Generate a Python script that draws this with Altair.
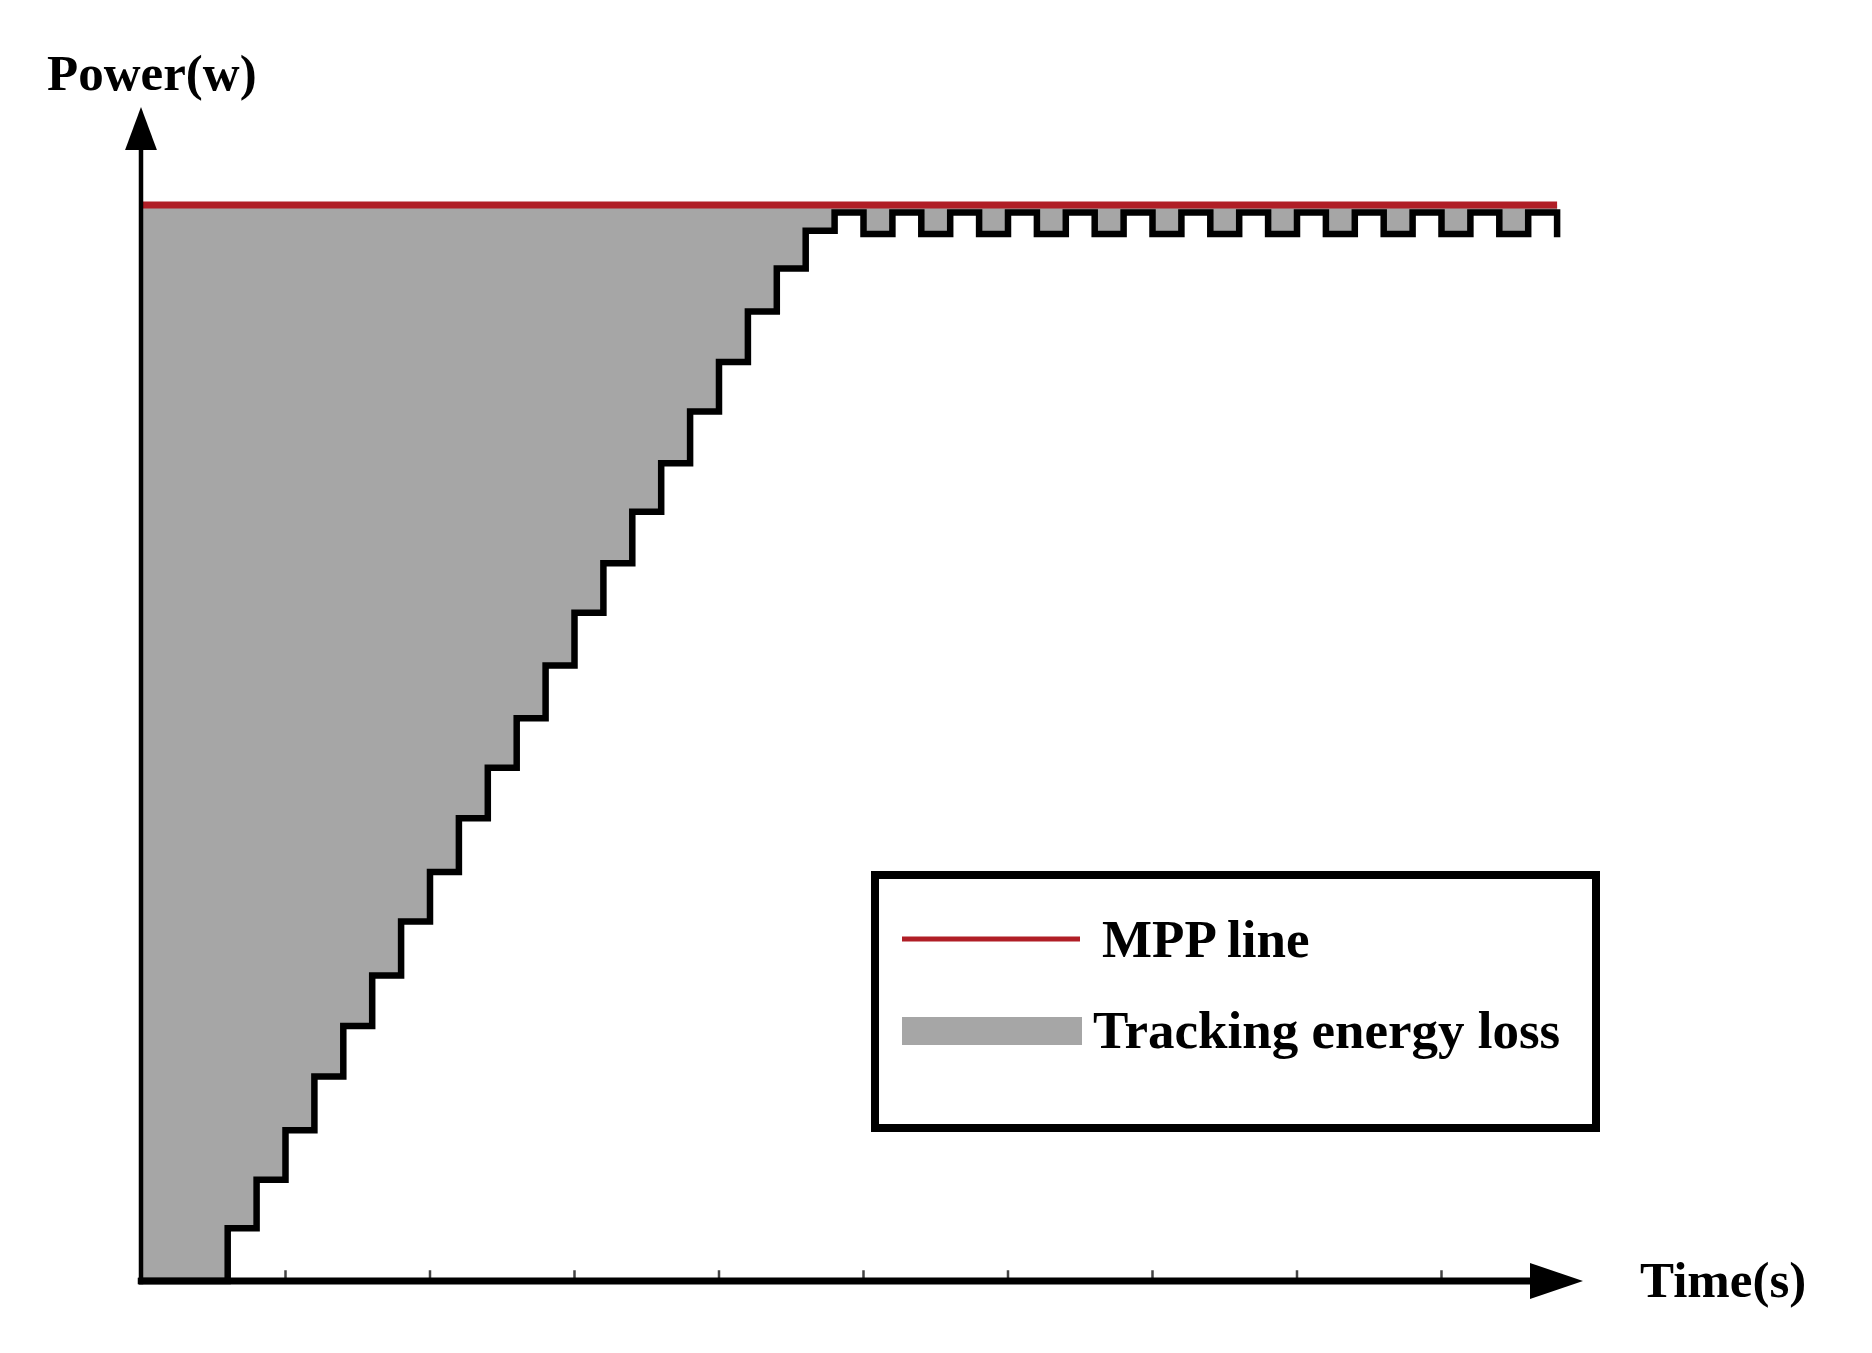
import altair as alt
import pandas as pd

# ---------------- data ----------------
time_s = [0, 3, 4, 5, 6, 7, 8, 9, 10, 11, 12, 13, 14, 15, 16, 17, 18, 19, 20,
          21, 22, 23, 24, 25, 26, 27, 28, 29, 30, 31, 32, 33, 34, 35, 36, 37,
          38, 39, 40, 41, 42, 43, 44, 45, 46, 47, 48, 49]
power_w = [0, 4.9, 9.4, 14.0, 19.0, 23.7, 28.4, 33.4, 38.0, 43.0, 47.7, 52.3,
           57.2, 62.1, 66.7, 71.5, 76.0, 80.8, 85.4, 90.1, 94.1, 97.6, 99.3,
           97.3, 99.3, 97.3, 99.3, 97.3, 99.3, 97.3, 99.3, 97.3, 99.3, 97.3,
           99.3, 97.3, 99.3, 97.3, 99.3, 97.3, 99.3, 97.3, 99.3, 97.3, 99.3,
           97.3, 99.3, 97.3]
mpp_time = [0, 49]
mpp_power = [100, 100]
tick_time = [5, 10, 15, 20, 25, 30, 35, 40, 45]
legend_labels = ["MPP line", "Tracking energy loss"]
axis_titles = ["Power(w)", "Time(s)"]

# ---------------- layout ----------------
W, H = 1850, 1330
T0, T1 = -4.602, 59.412
P0, P1 = -5.297, 118.309
xs = alt.Scale(domain=[T0, T1], nice=False, zero=False)
ys = alt.Scale(domain=[P0, P1], nice=False, zero=False)

RED = "#b01e26"
GRAY = "#a6a6a6"
FONT = "Liberation Serif"

steps = pd.DataFrame({"t": time_s, "p": power_w})
steps["mpp"] = mpp_power[0]
mpp = pd.DataFrame({"t": mpp_time, "p": mpp_power})
ticks = pd.DataFrame({"t": tick_time})
one = pd.DataFrame({"k": [0]})


def X(field=None, datum=None):
    if datum is not None:
        return alt.X(datum=datum, type="quantitative", scale=xs, axis=None)
    return alt.X(field, type="quantitative", scale=xs, axis=None)


def Y(field=None, datum=None):
    if datum is not None:
        return alt.Y(datum=datum, type="quantitative", scale=ys, axis=None)
    return alt.Y(field, type="quantitative", scale=ys, axis=None)


area = alt.Chart(steps).mark_area(interpolate="step-after", color=GRAY, opacity=1).encode(
    x=X("t"), y=Y("p"), y2="mpp:Q"
)

stair = alt.Chart(steps).mark_line(
    interpolate="step-after", color="black", strokeWidth=6.5,
    strokeJoin="miter", strokeCap="square"
).encode(x=X("t"), y=Y("p"))

mpp_line = alt.Chart(mpp).mark_line(color=RED, strokeWidth=7).encode(x=X("t"), y=Y("p"))

y_axis = alt.Chart(one).mark_rule(color="black", strokeWidth=4.5).encode(
    x=X(datum=0), y=Y(datum=-0.3), y2=alt.Y2(datum=105.3)
)
x_axis = alt.Chart(one).mark_rule(color="black", strokeWidth=7).encode(
    x=X(datum=-0.08), x2=alt.X2(datum=48.2), y=Y(datum=0)
)
y_arrow = alt.Chart(one).mark_point(
    shape="M0,-1L0.74,1L-0.74,1Z", filled=True, color="black", opacity=1, size=1849
).encode(x=X(datum=0), y=Y(datum=107.1))
x_arrow = alt.Chart(one).mark_point(
    shape="M1,0L-1,-0.68L-1,0.68Z", filled=True, color="black", opacity=1, size=2809
).encode(x=X(datum=48.98), y=Y(datum=0))

tick_marks = alt.Chart(ticks).mark_rule(color="#444444", strokeWidth=2.5).encode(
    x=X("t"), y=Y(datum=0), y2=alt.Y2(datum=1.0)
)

title_style = dict(font=FONT, fontWeight="bold", fontSize=51, align="left",
                   baseline="alphabetic", color="black")
y_title = alt.Chart(one).mark_text(**title_style).encode(
    x=X(datum=-3.25), y=Y(datum=110.7), text=alt.value(axis_titles[0])
)
x_title = alt.Chart(one).mark_text(**title_style).encode(
    x=X(datum=51.87), y=Y(datum=-1.49), text=alt.value(axis_titles[1])
)

# legend (pixel positions inside the plot area)
leg_box = alt.Chart(one).mark_rect(fill="white", stroke="black", strokeWidth=8).encode(
    x=alt.value(867), x2=alt.value(1588), y=alt.value(867), y2=alt.value(1120)
)
leg_line = alt.Chart(one).mark_rule(color=RED, strokeWidth=5).encode(
    x=alt.value(894), x2=alt.value(1072), y=alt.value(931)
)
leg_rect = alt.Chart(one).mark_rect(color=GRAY).encode(
    x=alt.value(894), x2=alt.value(1074), y=alt.value(1009), y2=alt.value(1037)
)
leg_style = dict(font=FONT, fontWeight="bold", fontSize=53, align="left",
                 baseline="alphabetic", color="black")
leg_t1 = alt.Chart(one).mark_text(**leg_style).encode(
    x=alt.value(1094), y=alt.value(949), text=alt.value(legend_labels[0])
)
leg_t2 = alt.Chart(one).mark_text(**leg_style).encode(
    x=alt.value(1085), y=alt.value(1040), text=alt.value(legend_labels[1])
)

chart = alt.layer(
    area, stair, mpp_line, tick_marks, x_axis, y_axis, x_arrow, y_arrow,
    y_title, x_title, leg_box, leg_line, leg_rect, leg_t1, leg_t2
).properties(
    width=W, height=H, padding=0, background="white"
).configure_view(stroke=None)

chart.save("out.html", embed_options={"renderer": "svg", "actions": False})
